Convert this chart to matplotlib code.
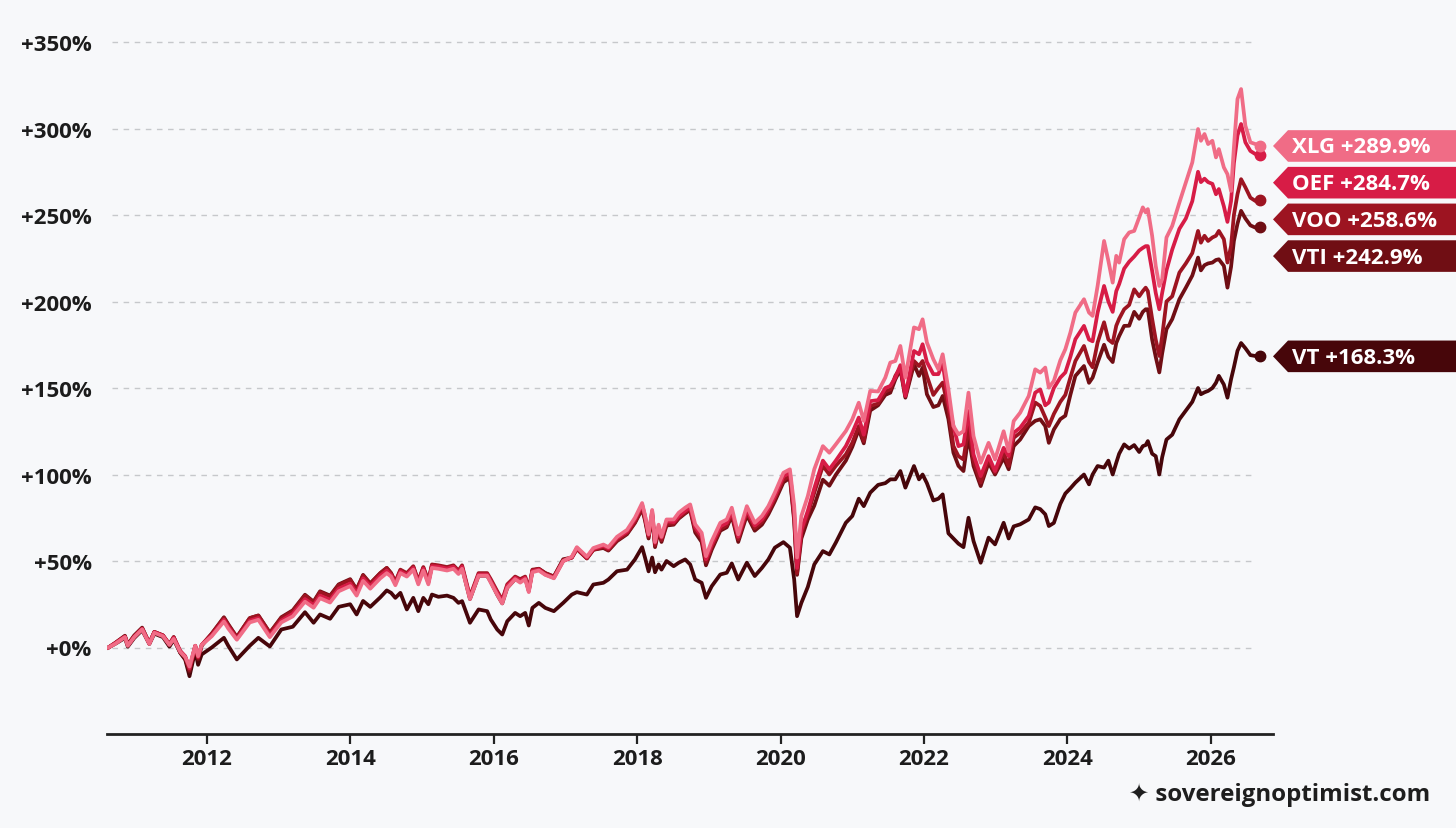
import matplotlib.pyplot as plt
from matplotlib.patches import Polygon

# decimal years
dates = [
    2010.63, 2010.72, 2010.86, 2010.90, 2010.99,
    2011.10, 2011.20, 2011.27, 2011.39, 2011.48, 2011.54, 2011.63, 2011.70, 2011.76, 2011.84, 2011.88, 2011.93,
    2012.07, 2012.24, 2012.30, 2012.42, 2012.60, 2012.72, 2012.88,
    2013.04, 2013.20, 2013.37, 2013.49, 2013.58, 2013.72, 2013.84,
    2014.00, 2014.09, 2014.18, 2014.28, 2014.42, 2014.51,
    2014.57, 2014.63, 2014.70, 2014.79, 2014.88, 2014.95,
    2015.02, 2015.09, 2015.14, 2015.23, 2015.35, 2015.44, 2015.51, 2015.56, 2015.67, 2015.79, 2015.91, 2015.96,
    2016.05, 2016.12, 2016.19, 2016.30, 2016.37, 2016.44, 2016.49, 2016.54, 2016.63, 2016.72, 2016.84, 2016.97,
    2017.09, 2017.16, 2017.30, 2017.39, 2017.53, 2017.60, 2017.72, 2017.86, 2017.97,
    2018.07, 2018.11, 2018.16, 2018.21, 2018.25, 2018.30, 2018.34, 2018.41,
    2018.51, 2018.58, 2018.67, 2018.74, 2018.81, 2018.90, 2018.96,
    2019.04, 2019.16, 2019.25, 2019.32, 2019.41, 2019.53, 2019.64, 2019.74, 2019.83, 2019.92,
    2020.04, 2020.13, 2020.19, 2020.23, 2020.29, 2020.38, 2020.47, 2020.59, 2020.68, 2020.77, 2020.91,
    2021.00, 2021.09, 2021.16, 2021.25, 2021.36, 2021.46,
    2021.53, 2021.60, 2021.67, 2021.74, 2021.86, 2021.93, 2021.98,
    2022.04, 2022.13, 2022.20, 2022.26, 2022.34, 2022.41, 2022.48, 2022.55, 2022.62, 2022.69, 2022.79, 2022.90, 2022.99,
    2023.11, 2023.18, 2023.25, 2023.34, 2023.46, 2023.55, 2023.62, 2023.69, 2023.74, 2023.81, 2023.90,
    2023.97, 2024.04, 2024.11, 2024.23, 2024.30, 2024.35, 2024.42, 2024.51, 2024.57, 2024.63, 2024.68, 2024.72, 2024.79, 2024.86, 2024.93,
    2025.00, 2025.05, 2025.09, 2025.12, 2025.18, 2025.23, 2025.28, 2025.32, 2025.38, 2025.46, 2025.56, 2025.65, 2025.74, 2025.82, 2025.86, 2025.91, 2025.96,
    2026.02, 2026.07, 2026.11, 2026.18, 2026.23, 2026.28, 2026.32, 2026.37, 2026.42, 2026.48, 2026.55, 2026.62, 2026.68,
]

# cumulative return, %
xlg = [
    0, 2, 6, 1, 6,
    10.5, 2, 8.5, 6.5, 1.5, 5, -2.5, -5.5, -11, 1, -5, 1.5,
    6.5, 15, 11, 4.5, 14.5, 16, 6,
    14.5, 18, 26.5, 23, 28.5, 26, 32.5,
    35.5, 30, 38.5, 34, 40, 43,
    41, 36, 43, 41, 45, 36.5,
    44.5, 36.5, 46, 45.5, 44.5, 45.5, 42.5, 45.5, 28, 41.5, 41.5, 37.5,
    30.5, 25.5, 34.5, 39.5, 37.5, 39.5, 32, 43.5, 44.5, 42, 40, 50,
    52.5, 58, 52.5, 57.5, 59.5, 58, 64, 68, 75,
    83.5, 76.5, 65.5, 79.5, 61, 71, 64, 74,
    74, 77.9, 80.8, 82.7, 71.2, 66.3, 52.8,
    61.5, 72.1, 74, 80.8, 65.4, 81.7, 72.1, 76, 81.7, 89.5,
    101, 103, 82, 52, 76, 87.5, 103, 116.4, 112.6, 117.4, 125.1,
    131.9, 141.5, 131, 148.3, 148, 156,
    164.7, 165.6, 174.3, 156, 185, 184, 189.7,
    176.3, 166.6, 160.8, 169.5, 149.2, 128, 123.2, 125, 147.3, 122.2, 106.8, 118.3, 108.7,
    125, 113.4, 130.9, 135.7, 145.4, 160.8, 158.9, 161.8, 150.2, 154.1, 166,
    172.4, 182, 193.6, 201.3, 193.6, 191.7, 209, 235, 223.5, 210.9, 226.4, 222.5, 236, 239.9, 240.8,
    248.6, 254.4, 251.5, 253.4, 238, 220.6, 209, 212.9, 237, 243.7, 257.2, 268.8, 280.4, 299.7, 292.9, 296.8, 291,
    292.9, 283.3, 288.1, 277.5, 273.6, 263.9, 289, 317, 322.8, 301.6, 292, 291, 289.9,
]

oef = [
    0, 2.3, 6.2, 1.2, 6.2,
    10.8, 2.3, 8.9, 6.9, 1.7, 5.6, -2, -5, -12, 1, -5.5, 1.5,
    7, 16, 12, 5, 15.5, 17, 7,
    15.5, 19.5, 28, 24.5, 30, 27.5, 34,
    37, 31.5, 40, 35.5, 41.5, 44.5,
    42, 37, 44, 42, 46, 37.5,
    45.6, 37.4, 47, 46.7, 45.6, 46.7, 43.4, 46.7, 28.7, 42.2, 42.2, 38.5,
    31.6, 26.8, 35.7, 40.3, 38.5, 40.3, 32.6, 44.1, 45, 42.2, 40.3, 50,
    52, 57.5, 52, 57, 58.8, 57.3, 63.2, 67, 74,
    82.5, 76, 65, 78.8, 60.5, 70, 63.5, 73,
    72.5, 76, 79, 81, 69.5, 64.5, 51,
    59.5, 70, 72, 78.5, 64, 79.5, 70.5, 74, 80, 87.5,
    99, 101, 78, 46, 68, 79, 92, 108, 103, 108, 116.4,
    124.1, 132.9, 123, 142.4, 143, 150,
    151.2, 156, 163.2, 145.4, 171.4, 169.5, 175.3,
    165, 158, 158, 164.5, 141.6, 128, 116.4, 117.4, 136.7, 111.6, 99.1, 110.6, 102,
    115.4, 110.6, 124.1, 127, 133.8, 147.3, 149.2, 140, 141.6, 150, 156,
    159, 168, 178.2, 185.9, 178, 177, 193.6, 209, 200, 194, 206, 210, 219, 223, 226,
    229.5, 231, 232, 232, 217.7, 205, 195.5, 205, 218, 230, 242, 248, 258, 275, 269, 271, 269,
    268, 262, 265, 255, 246, 258, 280, 296, 302.6, 292, 287, 285.2, 284.7,
]

voo = [
    0, 2.5, 6.5, 1.5, 6.5,
    11, 2.5, 9, 7, 2, 6, -2, -5.5, -13, 1, -6, 1.5,
    8, 17, 13, 6, 17, 18.5, 8.5,
    17, 21, 30, 26, 32, 29.5, 36,
    39, 33.5, 41.5, 37, 43, 46,
    43, 38, 45, 43, 47, 38.5,
    46.5, 38.5, 48, 47.5, 46.5, 47.5, 44.5, 47.5, 29.5, 43, 43, 39.5,
    32.5, 27.5, 36.5, 41, 39.5, 41, 33.5, 45, 45.5, 43, 41, 50.5,
    52, 57, 51.5, 56.5, 58, 56.5, 62, 66, 72.5,
    81, 74.5, 64, 77.5, 59, 68.5, 62, 71.5,
    71.5, 75, 78, 80, 68, 63, 49.5,
    58, 68.5, 70.5, 77, 62.5, 78, 69, 72.5, 78.5, 86,
    97, 99, 75, 43, 66, 77, 89.5, 105, 100, 105, 111.6,
    118.3, 128, 119.3, 139.6, 141, 148,
    149.2, 157, 161.8, 145.4, 165.6, 162.7, 165.6,
    157, 146, 150, 153.1, 137.7, 116.4, 110.6, 108.7, 128, 107.7, 95.3, 108.7, 101,
    112.6, 104.9, 121.2, 124.1, 129.9, 141.6, 139.6, 133, 128, 135, 142,
    146, 156, 165.6, 174.3, 165, 162, 176.3, 188, 178, 176, 186, 190, 195.5, 198, 207,
    203, 206, 208, 206, 190, 178, 168.5, 180, 200, 203, 216.7, 222, 228, 240.8, 234, 238, 235,
    237, 238, 240.8, 236, 222.5, 232, 250, 262, 270.7, 266, 260, 258.1, 258.6,
]

vti = [
    0, 2.5, 6.8, 1.8, 7,
    11.5, 2.5, 9, 7, 1.5, 6, -3, -6.5, -14, 0.5, -7, 1,
    8, 17.5, 13.5, 6, 17, 18.5, 8.5,
    17.5, 21.5, 30.5, 26.5, 32.5, 30, 36.5,
    39.5, 33.5, 42, 37, 43, 46,
    43, 37.5, 44.5, 42.5, 46.5, 38,
    46, 38, 47.5, 47, 46, 46.5, 43, 46, 28, 41.5, 41.5, 38,
    30.5, 25.5, 34.5, 39.5, 38.5, 40.5, 33, 44.5, 45.5, 43, 41, 51,
    52, 57, 51.5, 56.5, 57.5, 56, 61.5, 65.5, 72,
    80, 73.5, 63, 76.5, 58, 67.5, 61, 70.5,
    71, 74.5, 77.5, 79.5, 66.5, 61, 47.5,
    56.5, 67.5, 69.5, 76, 61, 76.5, 67.5, 71, 77, 84.5,
    95.5, 98, 73, 42, 63, 74, 82, 97, 93.5, 99.8, 108,
    116, 126, 118, 137, 140, 146,
    147.3, 155, 160.8, 144.4, 163.7, 157, 161.8,
    146.4, 139, 140, 145.4, 132, 112.6, 105, 102, 122.2, 104.9, 93.3, 106.8, 100,
    109.7, 103, 116.4, 120.2, 128, 131, 131.9, 128, 118.3, 126, 132,
    134, 146, 157, 162.7, 153, 156, 164.7, 175, 168, 165, 176, 180, 185.9, 186, 194,
    190, 194, 195.5, 195.5, 178, 168, 159, 170, 184, 189.8, 201.3, 208, 215, 225.4, 218, 221, 222,
    222.5, 224, 224.4, 220.6, 208, 220, 235, 245, 252.4, 248, 244, 242.7, 242.9,
]

vt = [
    0, 2, 5.5, 0.5, 5.5,
    10, 2, 8, 6, 0.5, 4.5, -3, -7, -16.6, -2, -10, -4,
    0, 5.6, 1, -6.9, 1, 5.6, 0.6,
    10.4, 12, 20.4, 14.3, 19.1, 16.6, 23.5,
    25, 19.1, 26.9, 23.5, 29, 33,
    31.6, 28.7, 31.6, 22, 28.7, 21,
    28.7, 25, 30.6, 29.3, 30, 28.7, 25.8, 26.8, 14.3, 22, 21, 16.2,
    10.4, 7.5, 15.2, 20, 18.1, 20, 12.7, 22.9, 25.8, 22.9, 21, 25.8,
    30.6, 32, 30.6, 36.4, 37.4, 39.3, 44.1, 45, 50.9,
    58, 52, 44, 52, 43.5, 48, 45, 50,
    47, 49, 50.9, 48, 39.3, 37.4, 28.7,
    35.4, 42.2, 43.2, 48.6, 39.3, 49, 41.3, 46, 50.9, 57.7,
    60.9, 57.7, 39.3, 18.1, 25.8, 35, 48, 55.7, 53.8, 60.6, 72.1,
    76, 86, 81.7, 89.5, 94, 95,
    97.2, 97.2, 102, 92.4, 104.9, 97.2, 100,
    95, 85, 86, 88.5, 66, 63, 60, 58, 75, 61.5, 49, 63.5, 59.6,
    72.1, 63, 70, 71.2, 74, 81, 80, 77, 70.2, 72, 83,
    89, 92, 95.3, 100, 94.3, 100, 104.9, 104, 108, 100, 106.8, 112, 117.4, 115, 117,
    113, 116.4, 117, 119.3, 112, 110.6, 100, 110, 120.2, 123, 131.9, 137, 142, 150, 146.4, 147.5, 148.3,
    150, 153, 157, 152, 144.4, 155, 162, 171.5, 176, 173, 169, 168.5, 168.3,
]

names = ["VT", "VTI", "VOO", "OEF", "XLG"]
values = [vt, vti, voo, oef, xlg]
colors = ["#47060a", "#700e14", "#9d1421", "#d71c46", "#f06c86"]

yticks = [0, 50, 100, 150, 200, 250, 300, 350]
xticks = [2012, 2014, 2016, 2018, 2020, 2022, 2024, 2026]

BG = "#f7f8fa"
FONT = ["Open Sans", "DejaVu Sans"]
plt.rcParams["font.family"] = FONT

W, H = 1456, 829
fig = plt.figure(figsize=(W / 100, H / 100), dpi=100, facecolor=BG)
ax = fig.add_axes([107 / W, 94 / H, 1166 / W, 709.3 / H])
ax.set_facecolor(BG)

for name, vals, col in zip(names, values, colors):
    ax.plot(dates, vals, color=col, lw=2.7, solid_joinstyle="round", zorder=3)
    ax.plot(dates[-1], vals[-1], "o", color=col, ms=7.5, zorder=4)

ax.set_xlim(2010.61, 2026.865)
ax.set_ylim(-50, 360)

ax.hlines(yticks, 2010.68, 2026.56, colors="#c6c8cb", lw=1.0,
          linestyles=(0, (4, 4)), zorder=1)

ax.set_yticks(yticks)
ax.set_yticklabels(["+%d%%" % v for v in yticks])
ax.set_xticks(xticks)
ax.set_xticklabels([str(v) for v in xticks])
ax.tick_params(axis="y", length=0, pad=11, labelsize=16, labelcolor="#1c1c1c")
ax.tick_params(axis="x", length=7, width=1.6, color="#222222", pad=3,
               labelsize=16, labelcolor="#1c1c1c")
for lab in ax.get_xticklabels() + ax.get_yticklabels():
    lab.set_fontweight("bold")

for s in ["top", "right", "left"]:
    ax.spines[s].set_visible(False)
ax.spines["bottom"].set_color("#222222")
ax.spines["bottom"].set_linewidth(2.0)

# overlay in pixel coords for the end tags
ov = fig.add_axes([0, 0, 1, 1])
ov.set_xlim(0, W)
ov.set_ylim(H, 0)
ov.axis("off")

ends = []
for name, vals, col in zip(names, values, colors):
    px = ax.transData.transform((dates[-1], vals[-1]))
    ends.append((vals[-1], H - px[1], name, col))
ends.sort(key=lambda e: -e[0])

prev = -1e9
half = 15.8
for val, yn, name, col in ends:
    yc = max(yn, prev + 36.7)
    prev = yc
    tip = 1273
    poly = Polygon([(tip, yc), (tip + 15, yc - half), (W + 5, yc - half),
                    (W + 5, yc + half), (tip + 15, yc + half)],
                   closed=True, facecolor=col, edgecolor="none")
    ov.add_patch(poly)
    ov.text(1292, yc + 1, f"{name} +{val:.1f}%", color="white", fontsize=16,
            fontweight="bold", va="center", ha="left")

ov.text(1430, 795, "\u2726 sovereignoptimist.com", color="#1e1e1e", fontsize=17.3,
        fontweight="bold", va="center", ha="right", family=FONT)

fig.savefig("out.png", dpi=100, facecolor=BG)
